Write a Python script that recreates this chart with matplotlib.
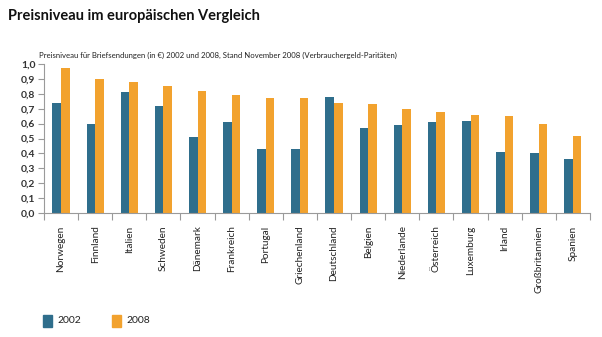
import numpy as np
import matplotlib.pyplot as plt
from matplotlib.patches import Rectangle

plt.rcParams['font.family'] = ['Lato', 'DejaVu Sans']

laender = ['Norwegen', 'Finnland', 'Italien', 'Schweden', 'Dänemark', 'Frankreich',
           'Portugal', 'Griechenland', 'Deutschland', 'Belgien', 'Niederlande',
           'Österreich', 'Luxemburg', 'Irland', 'Großbritannien', 'Spanien']
preis_2002 = [0.74, 0.60, 0.81, 0.72, 0.51, 0.61, 0.43, 0.43, 0.78, 0.57, 0.59,
              0.61, 0.62, 0.41, 0.40, 0.36]
preis_2008 = [0.97, 0.90, 0.88, 0.85, 0.82, 0.79, 0.77, 0.77, 0.74, 0.73, 0.70,
              0.68, 0.66, 0.65, 0.60, 0.52]
y_ticks = [0.0, 0.1, 0.2, 0.3, 0.4, 0.5, 0.6, 0.7, 0.8, 0.9, 1.0]

blau = '#2f6e8c'
orange = '#f2a22e'
grau = '#9a9a9a'

fig = plt.figure(figsize=(6.02, 3.37), dpi=100)
ax = fig.add_axes([0.073, 0.368, 0.907, 0.442])

x = np.arange(len(laender))
w = 0.25
ax.bar(x - w / 2, preis_2002, w, color=blau)
ax.bar(x + w / 2, preis_2008, w, color=orange)

ax.set_xlim(-0.5, len(laender) - 0.5)
ax.set_ylim(0, 1.0)
ax.set_yticks(y_ticks)
ax.set_yticklabels([f'{v:.1f}'.replace('.', ',') for v in y_ticks],
                   fontsize=7.5, fontweight='bold', color='#333333')

# Striche an den Grenzen der Kategorien, Namen mittig darunter
ax.set_xticks(np.arange(len(laender) + 1) - 0.5)
ax.set_xticklabels([])
ax.set_xticks(x, minor=True)
ax.set_xticklabels(laender, minor=True, rotation=90, fontsize=7.2, color='#222222')
ax.tick_params(axis='x', which='minor', length=0, pad=9)
ax.tick_params(axis='x', which='major', length=5, color=grau, width=0.8)
ax.tick_params(axis='y', length=4, color=grau, width=0.8, pad=2)

for s in ['top', 'right']:
    ax.spines[s].set_visible(False)
for s in ['left', 'bottom']:
    ax.spines[s].set_color(grau)
    ax.spines[s].set_linewidth(0.8)

fig.text(0.013, 0.952, 'Preisniveau im europäischen Vergleich', fontsize=10.5,
         fontweight='bold', color='#111111', va='center')
fig.text(0.064, 0.836,
         'Preisniveau für Briefsendungen (in €) 2002 und 2008, Stand November 2008 '
         '(Verbrauchergeld-Paritäten)', fontsize=5.6, color='#222222', va='center')

# Legende
for xl, farbe, jahr in [(0.071, blau, '2002'), (0.186, orange, '2008')]:
    fig.patches.append(Rectangle((xl, 0.030), 0.015, 0.036, color=farbe,
                                 transform=fig.transFigure))
    fig.text(xl + 0.024, 0.048, jahr, fontsize=7.5, color='#222222', va='center')

fig.savefig('out.png', dpi=100)
